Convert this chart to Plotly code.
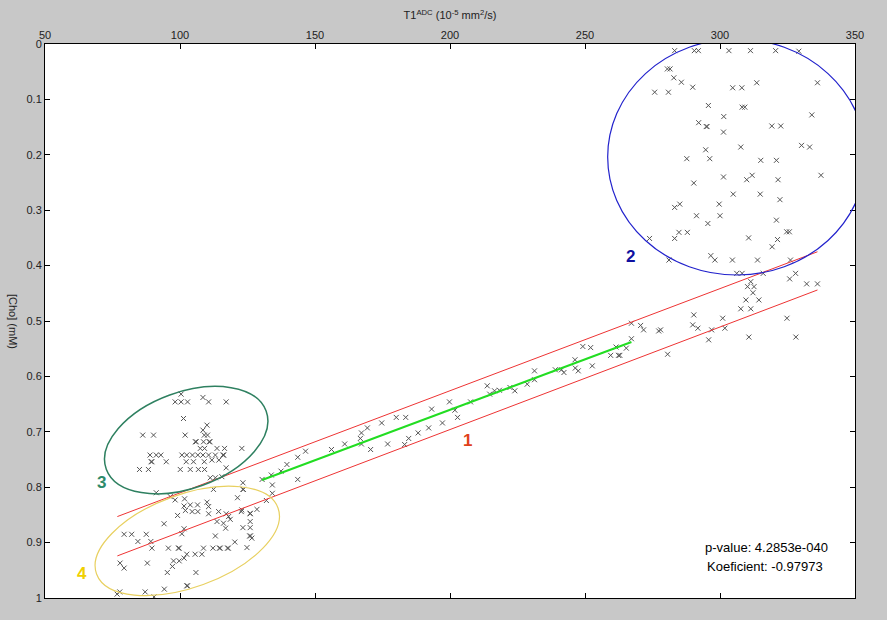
import plotly.graph_objects as go

# ---------------- data ----------------
# cluster "2" (top right)
c2_x = [283.2, 290.5, 292.0, 303.3, 311.3, 320.6, 329.2,
        280.5, 281.5, 282.9, 285.7, 289.9, 275.8, 280.9, 304.7, 308.1, 313.6, 336.1,
        295.7, 308.2, 309.2, 301.4, 334.0, 292.1, 294.9, 295.2, 301.3, 319.2, 322.5,
        294.7, 307.7, 330.2, 333.2, 287.7, 296.2, 315.1, 320.9,
        301.3, 309.9, 311.9, 321.5, 337.4, 290.3, 304.9, 314.9, 322.2,
        283.2, 285.1, 299.7, 291.3, 300.0, 295.5, 320.9,
        273.9, 283.2, 284.8, 287.9, 324.7, 325.7, 310.6, 321.3, 319.3,
        281.1, 296.6, 298.1, 304.6, 313.9, 326.1]
c2_y = [0.012, 0.012, 0.012, 0.012, 0.012, 0.012, 0.013,
        0.045, 0.045, 0.061, 0.069, 0.078, 0.087, 0.087, 0.079, 0.079, 0.070, 0.070,
        0.111, 0.114, 0.114, 0.131, 0.128, 0.142, 0.149, 0.149, 0.159, 0.148, 0.148,
        0.191, 0.186, 0.183, 0.186, 0.207, 0.207, 0.210, 0.210,
        0.240, 0.245, 0.237, 0.245, 0.237, 0.251, 0.271, 0.271, 0.281,
        0.295, 0.289, 0.289, 0.310, 0.310, 0.324, 0.318,
        0.351, 0.351, 0.340, 0.340, 0.339, 0.339, 0.350, 0.353, 0.366,
        0.390, 0.382, 0.390, 0.390, 0.390, 0.390]

# group "1" (points along the regression band)
c1_x = [306.2, 308.2, 316.0, 325.8, 328.0, 332.1, 336.1, 311.4, 310.2, 312.6,
        312.2, 309.6, 314.4, 307.7, 311.4, 301.0, 301.8, 296.9, 291.8, 290.3, 289.9,
        324.8, 328.1, 310.7, 295.8, 280.6, 278.0, 271.7,
        267.2, 270.6, 277.3, 249.2, 252.1, 267.2, 261.5, 265.3, 259.5, 262.4, 262.9,
        246.3, 246.4, 247.5, 252.7, 239.0, 241.3, 242.2, 231.3, 231.3, 228.6, 222.2,
        224.0, 213.8, 214.7, 216.5, 218.3, 207.6, 199.8, 201.8, 202.8, 197.2, 193.2,
        192.1, 188.2, 184.7, 183.2, 176.9, 170.6, 180.1, 183.6, 174.7, 169.4, 167.2,
        166.8, 167.2, 161.0, 156.1, 146.5, 143.6, 139.6, 137.4, 133.8, 130.4, 143.6,
        134.2, 134.2, 132.0, 123.3, 123.3, 122.9, 126.0, 128.5, 122.9]
c1_y = [0.414, 0.414, 0.414, 0.424, 0.414, 0.433, 0.433, 0.429, 0.438, 0.438,
        0.449, 0.462, 0.462, 0.478, 0.478, 0.495, 0.513, 0.516, 0.513, 0.489, 0.507,
        0.495, 0.529, 0.529, 0.534, 0.560, 0.516, 0.516,
        0.504, 0.508, 0.518, 0.546, 0.548, 0.532, 0.547, 0.549, 0.562, 0.562, 0.562,
        0.570, 0.585, 0.590, 0.581, 0.588, 0.588, 0.593, 0.590, 0.606, 0.614, 0.620,
        0.626, 0.617, 0.632, 0.626, 0.625, 0.646, 0.646, 0.661, 0.674, 0.684, 0.659,
        0.693, 0.702, 0.712, 0.723, 0.722, 0.732, 0.674, 0.674, 0.684, 0.693, 0.702,
        0.712, 0.722, 0.722, 0.732, 0.735, 0.746, 0.759, 0.771, 0.778, 0.786, 0.786,
        0.796, 0.811, 0.824, 0.792, 0.804, 0.730, 0.847, 0.840, 0.841]

# cluster "3"
c3_x = [100.4, 108.5, 98.2, 100.4, 102.8, 110.6, 117.1,
        101.3, 110.0, 108.5, 109.0, 110.2, 86.2, 90.2, 101.9,
        105.7, 106.0, 108.7, 110.8, 111.1,
        107.5, 109.1, 113.7, 116.5,
        88.9, 91.2, 92.9, 100.7, 102.5, 104.6, 106.6, 108.5, 110.6, 113.1, 115.9, 116.2,
        89.3, 89.6, 94.9, 102.3, 105.0, 109.0, 111.8, 114.4,
        85.0, 88.3, 100.1, 103.8, 106.8, 109.1, 117.1,
        111.2, 113.1, 115.5]
c3_y = [0.632, 0.638, 0.646, 0.646, 0.646, 0.646, 0.646,
        0.676, 0.688, 0.697, 0.706, 0.706, 0.706, 0.706, 0.706,
        0.718, 0.718, 0.718, 0.718, 0.718,
        0.730, 0.730, 0.730, 0.730,
        0.742, 0.742, 0.742, 0.742, 0.742, 0.742, 0.742, 0.742, 0.742, 0.742, 0.742, 0.742,
        0.754, 0.754, 0.754, 0.754, 0.754, 0.754, 0.751, 0.751,
        0.768, 0.768, 0.768, 0.768, 0.768, 0.768, 0.765,
        0.783, 0.783, 0.781]

# cluster "4"
c4_x = [91.2, 96.4, 98.2, 112.4, 123.5, 121.3,
        101.7, 110.0, 101.5, 103.8, 106.5, 102.0, 104.5, 106.6, 110.6, 110.6, 99.1,
        114.3, 117.1, 118.0, 118.6, 122.7, 126.0, 113.7, 116.1, 116.9, 123.3, 126.0,
        126.0, 125.8, 126.1, 126.6, 101.5, 100.7, 94.1, 113.1, 120.3, 124.8,
        79.3, 82.1, 87.5, 84.4, 89.2, 89.6,
        95.7, 99.4, 99.7, 108.7, 112.2, 114.6, 114.9, 117.6, 117.9,
        102.5, 105.6, 108.1, 97.6, 99.7, 101.5, 97.2, 95.3, 87.9, 77.8, 79.3, 105.9,
        102.5, 102.8, 94.2, 87.1, 77.7, 76.7, 90.4]
c4_y = [0.810, 0.817, 0.823, 0.804, 0.804, 0.819,
        0.821, 0.827, 0.834, 0.832, 0.832, 0.842, 0.844, 0.844, 0.835, 0.848, 0.851,
        0.844, 0.848, 0.853, 0.858, 0.844, 0.848, 0.862, 0.865, 0.874, 0.873, 0.873,
        0.862, 0.888, 0.888, 0.892, 0.875, 0.884, 0.866, 0.888, 0.899, 0.909,
        0.885, 0.885, 0.885, 0.898, 0.898, 0.910,
        0.910, 0.910, 0.910, 0.910, 0.910, 0.910, 0.910, 0.910, 0.910,
        0.921, 0.921, 0.921, 0.933, 0.933, 0.928, 0.943, 0.954, 0.937, 0.937, 0.946, 0.954,
        0.978, 0.978, 0.984, 0.989, 0.989, 0.993, 0.998]

# regression line and confidence band (end points)
fit_x = [130.4, 267.2]
fit_y = [0.787, 0.538]
band_x = [76.8, 336.1]
band_upper_y = [0.853, 0.375]
band_lower_y = [0.924, 0.444]

# cluster outlines: centre + two conjugate semi-diameters (data units)
ell3 = dict(cx=102.3, cy=0.715, ux=29.6, uy=-0.0525, vx=6.1, vy=0.0814)
ell4 = dict(cx=102.7, cy=0.897, ux=33.6, uy=-0.0596, vx=5.9, vy=0.0787)
ell2 = dict(x0=258.4, x1=354.0, y0=-0.009, y1=0.417)

x_ticks = [50, 100, 150, 200, 250, 300, 350]
y_ticks = [0, 0.1, 0.2, 0.3, 0.4, 0.5, 0.6, 0.7, 0.8, 0.9, 1]
y_ticktext = ["0", "0.1", "0.2", "0.3", "0.4", "0.5", "0.6", "0.7", "0.8", "0.9", "1"]

group_labels = ["1", "2", "3", "4"]
label_x = [206.5, 266.9, 70.8, 63.7]
label_y = [0.715, 0.383, 0.792, 0.955]
label_colors = ["#e0401a", "#1010a0", "#2e8b6a", "#f0d000"]

stats_text = ["p-value: 4.2853e-040", "Koeficient: -0.97973"]
stats_x = [317.3, 316.6]
stats_y = [0.908, 0.944]

# ---------------- figure ----------------
FONT = "Liberation Sans, Arial, sans-serif"
fig = go.Figure()

marker = dict(symbol="x-thin", size=5, color="#555555",
              line=dict(width=1, color="#555555"))
all_x = c2_x + c1_x + c3_x + c4_x
all_y = c2_y + c1_y + c3_y + c4_y
fig.add_trace(go.Scatter(x=all_x, y=all_y, mode="markers", marker=marker,
                         hoverinfo="x+y"))

fig.add_trace(go.Scatter(x=band_x, y=band_upper_y, mode="lines",
                         line=dict(color="#ee3333", width=1)))
fig.add_trace(go.Scatter(x=band_x, y=band_lower_y, mode="lines",
                         line=dict(color="#ee3333", width=1)))
fig.add_trace(go.Scatter(x=fit_x, y=fit_y, mode="lines",
                         line=dict(color="#22dd22", width=2)))


def ellipse_path(cx, cy, ux, uy, vx, vy):
    k = 0.5523

    def p(a, b):
        return f"{cx + a * ux + b * vx},{cy + a * uy + b * vy}"
    return (f"M {p(1, 0)} C {p(1, k)} {p(k, 1)} {p(0, 1)} "
            f"C {p(-k, 1)} {p(-1, k)} {p(-1, 0)} "
            f"C {p(-1, -k)} {p(-k, -1)} {p(0, -1)} "
            f"C {p(k, -1)} {p(1, -k)} {p(1, 0)} Z")


fig.add_shape(type="path", xref="x", yref="y", path=ellipse_path(**ell3),
              line=dict(color="#2e8060", width=1.5))
fig.add_shape(type="path", xref="x", yref="y", path=ellipse_path(**ell4),
              line=dict(color="#e8d060", width=1.2))
fig.add_shape(type="circle", xref="x", yref="y", **ell2,
              line=dict(color="#2222cc", width=1.2))

for t, x, y, c in zip(group_labels, label_x, label_y, label_colors):
    fig.add_annotation(x=x, y=y, text=f"<b>{t}</b>", showarrow=False,
                       font=dict(family=FONT, size=17, color=c))

for t, x, y in zip(stats_text, stats_x, stats_y):
    fig.add_annotation(x=x, y=y, text=t, showarrow=False,
                       font=dict(family=FONT, size=13, color="#000000"))

fig.add_annotation(xref="paper", yref="paper", x=0, y=0.5, xshift=-32,
                   xanchor="center", yanchor="middle",
                   text="[Cho] (mM)", textangle=90, showarrow=False,
                   font=dict(family=FONT, size=11, color="#222222"))

axis_common = dict(showline=True, linecolor="#000000", linewidth=1, mirror="ticks",
                   ticks="inside", ticklen=5, tickcolor="#000000", showgrid=False,
                   zeroline=False, tickfont=dict(family=FONT, size=11, color="#222222"))

fig.update_layout(
    width=887, height=620,
    paper_bgcolor="#c8c8c8", plot_bgcolor="#ffffff",
    margin=dict(l=45, r=32, t=44, b=22),
    showlegend=False,
    xaxis=dict(range=[50, 350], side="top", tickvals=x_ticks,
               title=dict(text="T1<sup>ADC</sup> (10<sup>-5</sup> mm<sup>2</sup>/s)",
                          font=dict(family=FONT, size=11, color="#222222"), standoff=6),
               **axis_common),
    yaxis=dict(range=[1, 0], tickvals=y_ticks, ticktext=y_ticktext, **axis_common),
)

fig.write_html("out.html", config={"displayModeBar": False},
               post_script="document.body.style.margin='0';"
                           "document.body.style.background='#c8c8c8';")
